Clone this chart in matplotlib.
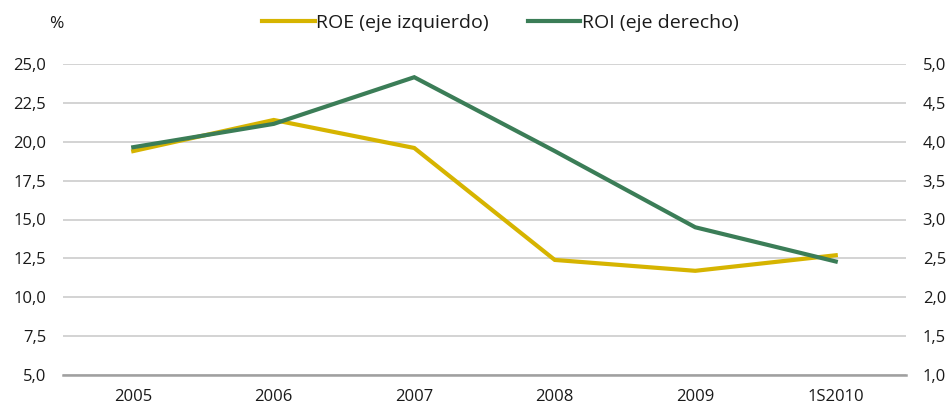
import matplotlib
matplotlib.use("Agg")
import matplotlib.pyplot as plt
from matplotlib.ticker import FuncFormatter, FixedLocator

categories = ["2005", "2006", "2007", "2008", "2009", "1S2010"]
roe = [19.4, 21.4, 19.6, 12.4, 11.7, 12.7]
roi = [3.93, 4.23, 4.83, 3.88, 2.90, 2.46]
left_ticks = [5.0, 7.5, 10.0, 12.5, 15.0, 17.5, 20.0, 22.5, 25.0]
right_ticks = [1.0, 1.5, 2.0, 2.5, 3.0, 3.5, 4.0, 4.5, 5.0]

roe_color = "#D6B400"
roi_color = "#3B7D57"
plt.rcParams['font.family'] = ['Open Sans', 'DejaVu Sans']

fig = plt.figure(figsize=(9.49, 4.08), dpi=100)
ax = fig.add_axes([63/949, 1-375/408, (906-63)/949, (375-64)/408])
ax2 = ax.twinx()

x = list(range(len(categories)))
l1, = ax.plot(x, roe, color=roe_color, lw=3.0, solid_joinstyle='miter', label="ROE (eje izquierdo)")
l2, = ax2.plot(x, roi, color=roi_color, lw=3.0, solid_joinstyle='miter', label="ROI (eje derecho)")

ax.set_xlim(-0.5, len(categories)-0.5)
ax.set_ylim(5, 25)
ax2.set_ylim(1, 5)
ax.yaxis.set_major_locator(FixedLocator(left_ticks))
ax2.yaxis.set_major_locator(FixedLocator(right_ticks))
fmt = FuncFormatter(lambda v, p: f"{v:.1f}".replace(".", ","))
ax.yaxis.set_major_formatter(fmt)
ax2.yaxis.set_major_formatter(fmt)
ax.set_xticks(x)
ax.set_xticklabels(categories)

ax.grid(axis='y', color='#CCCCCC', lw=1.2)
ax.set_axisbelow(True)
for a in (ax, ax2):
    for s in a.spines.values():
        s.set_visible(False)
    a.tick_params(length=0, labelsize=12, colors='#1a1a1a')
ax.spines['bottom'].set_visible(True)
ax.spines['bottom'].set_color('#A0A0A0')
ax.spines['bottom'].set_linewidth(1.8)
ax.tick_params(axis='y', pad=12)
ax2.tick_params(axis='y', pad=12)
ax.tick_params(axis='x', pad=10)

fig.text(56/949, 1-24/408, "%", fontsize=12.5, ha='center', va='center', color='#1a1a1a')
leg = fig.legend(handles=[l1, l2], loc='center left', bbox_to_anchor=(262/949, 1-23/408), ncol=2,
                 frameon=False, fontsize=14, handlelength=2.7, handletextpad=0.1, columnspacing=2.0,
                 borderaxespad=0, borderpad=0)
for t in leg.get_texts():
    t.set_color('#1a1a1a')

fig.savefig("out.png", dpi=100)
